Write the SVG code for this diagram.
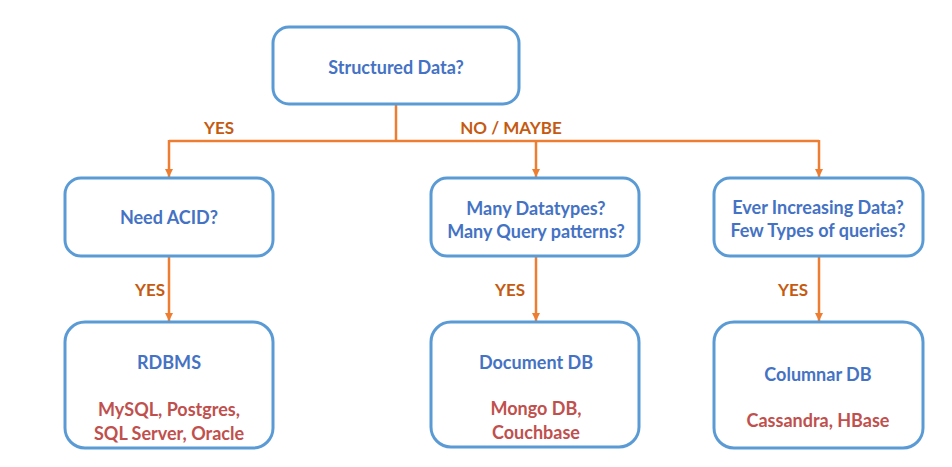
<svg xmlns="http://www.w3.org/2000/svg" width="952" height="467" viewBox="0 0 952 467">
<defs>
<style>
.box{fill:#fff;stroke:#5B9BD5;stroke-width:3}
.t{font-family:Lato,"Open Sans",sans-serif;font-weight:bold;font-size:18px;text-anchor:middle;dominant-baseline:central}
.q{fill:#4472C4}
.r{fill:#C0504D}
.l{fill:#C55A11;font-size:17px}
.c{fill:none;stroke:#ED7D31;stroke-width:2.5}
</style>
<marker id="ah" viewBox="0 0 8 8" refX="8" refY="4" markerWidth="8" markerHeight="8" markerUnits="userSpaceOnUse" orient="auto">
<path d="M0,0 L8,4 L0,8 Z" fill="#ED7D31"/>
</marker>
</defs>
<rect width="952" height="467" fill="#fff"/>
<g id="connectors">
<path class="c" d="M396,105 V141"/>
<path class="c" d="M169,141 H819"/>
<path class="c" d="M169,140 V177" marker-end="url(#ah)"/>
<path class="c" d="M536,141 V177" marker-end="url(#ah)"/>
<path class="c" d="M819,140 V177" marker-end="url(#ah)"/>
<path class="c" d="M169,256 V321" marker-end="url(#ah)"/>
<path class="c" d="M536,256 V321" marker-end="url(#ah)"/>
<path class="c" d="M819,256 V321" marker-end="url(#ah)"/>
<text class="t l" x="219" y="127">YES</text>
<text class="t l" x="511" y="127">NO / MAYBE</text>
<text class="t l" x="150" y="289">YES</text>
<text class="t l" x="510" y="289">YES</text>
<text class="t l" x="793" y="289">YES</text>
</g>
<g id="structured">
<rect class="box" x="273" y="27" width="246" height="77" rx="16"/>
<text class="t q" x="396" y="67">Structured Data?</text>
</g>
<g id="acid">
<rect class="box" x="65" y="178" width="208" height="78" rx="16"/>
<text class="t q" x="169" y="217">Need ACID?</text>
</g>
<g id="datatypes">
<rect class="box" x="431" y="178" width="208" height="78" rx="16"/>
<text class="t q" x="536" y="208">Many Datatypes?</text>
<text class="t q" x="536" y="231">Many Query patterns?</text>
</g>
<g id="increasing">
<rect class="box" x="714" y="178" width="209" height="78" rx="16"/>
<text class="t q" x="818" y="207">Ever Increasing Data?</text>
<text class="t q" x="818" y="230">Few Types of queries?</text>
</g>
<g id="rdbms">
<rect class="box" x="65" y="322" width="208" height="126" rx="20"/>
<text class="t q" x="169" y="362">RDBMS</text>
<text class="t r" x="169" y="409">MySQL, Postgres,</text>
<text class="t r" x="169" y="433">SQL Server, Oracle</text>
</g>
<g id="document">
<rect class="box" x="431" y="322" width="208" height="125" rx="20"/>
<text class="t q" x="536" y="362">Document DB</text>
<text class="t r" x="536" y="408">Mongo DB,</text>
<text class="t r" x="536" y="432">Couchbase</text>
</g>
<g id="columnar">
<rect class="box" x="714" y="322" width="209" height="126" rx="20"/>
<text class="t q" x="818" y="374">Columnar DB</text>
<text class="t r" x="818" y="420">Cassandra, HBase</text>
</g>
</svg>
